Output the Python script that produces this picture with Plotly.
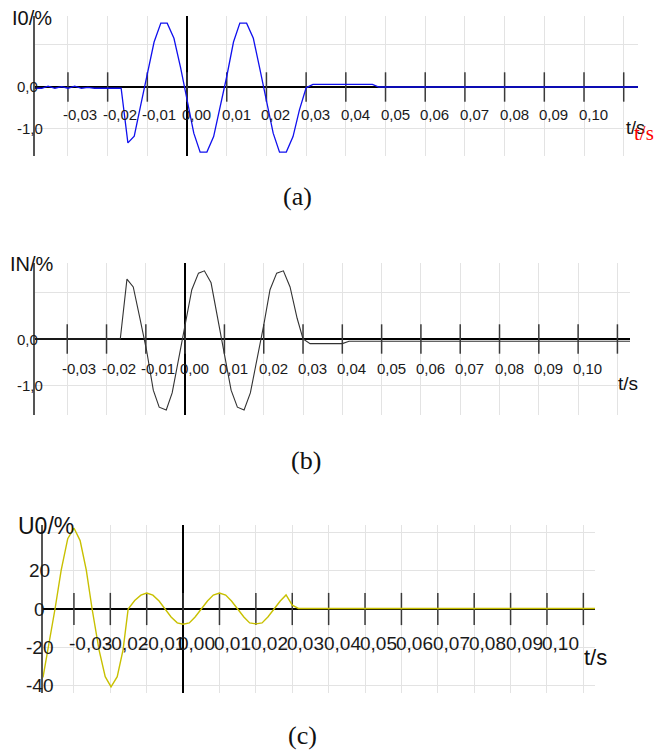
import plotly.graph_objects as go

W, H = 656, 752

# ---------------- data ----------------
# (a) I0 / %
t_a = [-0.0383, -0.0366, -0.0350, -0.0333, -0.0316, -0.0300, -0.0283, -0.0266, -0.0250,
       -0.0233, -0.0216, -0.0200, -0.0183, -0.0166, -0.0149, -0.0133, -0.0116, -0.0100,
       -0.0083, -0.0066, -0.0050, -0.0033, -0.0016, 0.0000, 0.0017, 0.0033, 0.0050,
       0.0067, 0.0083, 0.0100, 0.0117, 0.0133, 0.0150, 0.0167, 0.0183, 0.0200, 0.0217,
       0.0233, 0.0250, 0.0267, 0.0283, 0.0300, 0.0317, 0.0467, 0.0483, 0.1136]
v_a = [-0.03, -0.03, 0.02, -0.03, 0.01, -0.03, 0.02, -0.03, -0.01,
       -0.03, -0.03, -0.03, -0.03, -0.03, -1.33, -1.17, -0.40, 0.30,
       1.07, 1.52, 1.52, 1.16, 0.45, -0.30, -1.10, -1.55, -1.55,
       -1.18, -0.50, 0.25, 1.07, 1.52, 1.52, 1.16, 0.45, -0.30, -1.10,
       -1.55, -1.55, -1.18, -0.55, -0.02, 0.06, 0.06, 0.0, 0.0]

# (b) IN / %
t_b = [-0.0382, -0.0165, -0.0148, -0.0132, -0.0115, -0.0098, -0.0081, -0.0066, -0.0048,
       -0.0033, -0.0016, 0.0000, 0.0017, 0.0034, 0.0049, 0.0066, 0.0083, 0.0100,
       0.0117, 0.0133, 0.0150, 0.0166, 0.0183, 0.0200, 0.0216, 0.0233, 0.0250,
       0.0267, 0.0285, 0.0300, 0.0318, 0.0400, 0.0417, 0.1132]
v_b = [0.0, 0.0, 1.30, 1.13, 0.45, -0.25, -1.11, -1.48, -1.54,
       -1.17, -0.41, 0.31, 1.07, 1.43, 1.48, 1.22, 0.44, -0.33,
       -1.11, -1.48, -1.54, -1.17, -0.45, 0.30, 1.07, 1.43, 1.48,
       1.13, 0.45, 0.0, -0.10, -0.10, -0.05, -0.05]

# (c) U0 / %
t_c = [-0.0385, -0.0368, -0.0352, -0.0335, -0.0317, -0.0300, -0.0283, -0.0266, -0.0250,
       -0.0231, -0.0214, -0.0198, -0.0181, -0.0165, -0.0151, -0.0133, -0.0116, -0.0100,
       -0.0083, -0.0066, -0.0050, -0.0033, -0.0016, 0.0000, 0.0017, 0.0033, 0.0050,
       0.0067, 0.0083, 0.0100, 0.0117, 0.0133, 0.0150, 0.0167, 0.0183, 0.0200, 0.0217,
       0.0233, 0.0250, 0.0267, 0.0283, 0.0300, 0.0317, 0.1132]
v_c = [-36, -18, 0, 20.5, 37, 42.6, 36, 20.5, 0,
       -21.5, -35.6, -41, -35.6, -21.5, 0, 4.5, 7.3, 8.4,
       7.3, 4.2, 0, -4.2, -7.3, -8.0, -7.3, -4.2, 0,
       4.2, 7.3, 8.4, 7.3, 4.2, 0, -4.2, -7.3, -7.8, -7.3,
       -4.2, 0, 4.2, 7.4, 2.0, 0.3, 0.3]

x_ticks = [-0.03, -0.02, -0.01, 0.00, 0.01, 0.02, 0.03, 0.04, 0.05, 0.06, 0.07, 0.08, 0.09, 0.10, 0.11]
x_tick_labels = ["-0,03", "-0,02", "-0,01", "0,00", "0,01", "0,02", "0,03", "0,04",
                 "0,05", "0,06", "0,07", "0,08", "0,09", "0,10"]
y_ticks_ab = [0.0, -1.0]
y_labels_ab = ["0,0", "-1,0"]
y_ticks_c = [20, 0, -20, -40]
y_labels_c = ["20", "0", "-20", "-40"]

# ---------------- layout helpers ----------------
def px(x):
    return x / W

def py(y):
    return 1 - y / H

SANS = "Liberation Sans"
SERIF = "Liberation Serif"

panels = [
    dict(t=t_a, v=v_a, color="#1010ee", width=1.3, xd=[35, 638], yd=[156, 16],
         xr=[-0.0383, 0.1136], yr=[-1.643, 1.69], dy=1, fs=15, lshift=-28,
         ylabels=(y_ticks_ab, y_labels_ab), title="I0/%", tfs=20, tx=10, ty=18),
    dict(t=t_b, v=v_b, color="#333333", width=1.1, xd=[35, 630], yd=[415, 263],
         xr=[-0.0382, 0.1132], yr=[-1.65, 1.65], dy=1, fs=15, lshift=-29,
         ylabels=(y_ticks_ab, y_labels_ab), title="IN/%", tfs=20, tx=8, ty=264),
    dict(t=t_c, v=v_c, color="#c8c000", width=1.4, xd=[43, 595], yd=[693, 525],
         xr=[-0.0385, 0.1132], yr=[-44.2, 44.2], dy=20, fs=19, lshift=-34,
         ylabels=(y_ticks_c, y_labels_c), title="U0/%", tfs=23, tx=16, ty=526),
]

fig = go.Figure()
annotations = []

for i, p in enumerate(panels, start=1):
    sfx = "" if i == 1 else str(i)
    xa, ya = "x" + sfx, "y" + sfx
    fig.update_layout(**{
        "xaxis" + sfx: dict(domain=[px(p["xd"][0]), px(p["xd"][1])], range=p["xr"],
                            anchor=ya, showgrid=True, gridcolor="#e3e3e3", gridwidth=1,
                            dtick=0.01, tick0=0, showticklabels=False, ticks="",
                            zeroline=True, zerolinecolor="#000000", zerolinewidth=1.5,
                            showline=False, fixedrange=True),
        "yaxis" + sfx: dict(domain=[py(p["yd"][0]), py(p["yd"][1])], range=p["yr"],
                            anchor=xa, showgrid=True, gridcolor="#e3e3e3", gridwidth=1,
                            dtick=p["dy"], tick0=0, showticklabels=False, ticks="",
                            zeroline=True, zerolinecolor="#000000", zerolinewidth=1.5,
                            showline=True, linecolor="#555555", linewidth=1.5,
                            fixedrange=True),
    })
    # tick marks crossing the zero line
    fig.add_trace(go.Scatter(x=x_ticks, y=[0] * len(x_ticks), mode="markers",
                             marker=dict(symbol="line-ns", size=21 if i < 3 else 23,
                                         line=dict(color="#3a3a3a", width=1.5)),
                             xaxis=xa, yaxis=ya, hoverinfo="skip", showlegend=False))
    # waveform
    fig.add_trace(go.Scatter(x=p["t"], y=p["v"], mode="lines",
                             line=dict(color=p["color"], width=p["width"]),
                             xaxis=xa, yaxis=ya, showlegend=False))
    # x tick labels
    for tv, tl in zip(x_ticks, x_tick_labels):
        annotations.append(dict(x=tv, y=0, xref=xa, yref=ya, text=tl, showarrow=False,
                                xanchor="left", yanchor="middle", xshift=-7,
                                yshift=p["lshift"],
                                font=dict(family=SANS, size=p["fs"], color="#1a1a1a")))
    # y tick labels
    yv, yl = p["ylabels"]
    for v, l in zip(yv, yl):
        if i < 3:
            annotations.append(dict(x=px(15), y=v, xref="paper", yref=ya, text=l,
                                    showarrow=False, xanchor="left", yanchor="middle",
                                    font=dict(family=SANS, size=15, color="#1a1a1a")))
        else:
            annotations.append(dict(x=px(39.5), y=v, xref="paper", yref=ya, text=l,
                                    showarrow=False, xanchor="center", yanchor="middle",
                                    font=dict(family=SANS, size=19, color="#1a1a1a")))
    # axis title
    annotations.append(dict(x=px(p["tx"]), y=py(p["ty"]), xref="paper", yref="paper",
                            text=p["title"], showarrow=False, xanchor="left",
                            yanchor="middle",
                            font=dict(family=SANS, size=p["tfs"], color="#111111")))

# t/s labels
annotations += [
    dict(x=px(624), y=py(128), xref="paper", yref="paper", text="t/s", showarrow=False,
         xanchor="left", yanchor="middle", font=dict(family=SANS, size=18, color="#111111")),
    dict(x=px(632), y=py(133), xref="paper", yref="paper", text="t/s", showarrow=False,
         xanchor="left", yanchor="middle", font=dict(family=SERIF, size=21, color="#ff0000")),
    dict(x=px(616), y=py(383), xref="paper", yref="paper", text="t/s", showarrow=False,
         xanchor="left", yanchor="middle", font=dict(family=SANS, size=19, color="#111111")),
    dict(x=px(582), y=py(657), xref="paper", yref="paper", text="t/s", showarrow=False,
         xanchor="left", yanchor="middle", font=dict(family=SANS, size=22, color="#111111")),
]
# captions
for cap, cx, cy in [("(a)", 297, 196), ("(b)", 306, 460), ("(c)", 302, 735)]:
    annotations.append(dict(x=px(cx), y=py(cy), xref="paper", yref="paper", text=cap,
                            showarrow=False, xanchor="center", yanchor="middle",
                            font=dict(family=SERIF, size=26, color="#111111")))

fig.update_layout(width=W, height=H, margin=dict(l=0, r=0, t=0, b=0),
                  paper_bgcolor="white", plot_bgcolor="white",
                  annotations=annotations, showlegend=False)

fig.write_html("out.html", config={"displayModeBar": False},
               post_script="document.body.style.margin='0';document.body.style.overflow='hidden';")
